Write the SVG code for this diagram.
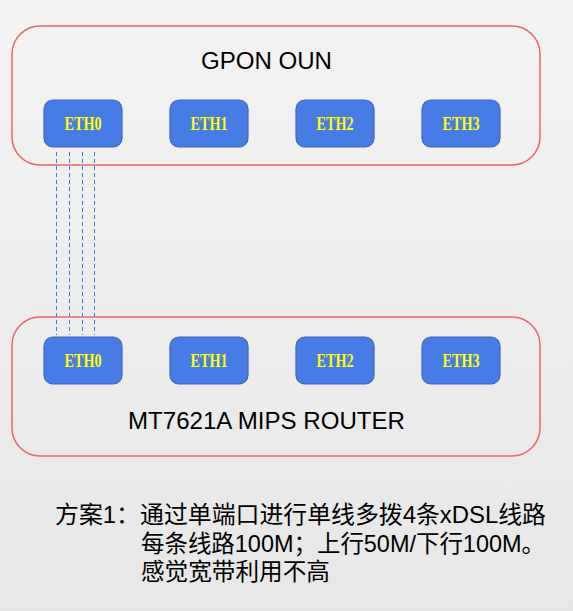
<svg xmlns="http://www.w3.org/2000/svg" width="573" height="611" viewBox="0 0 573 611">
<defs>
<linearGradient id="bg" x1="0" y1="0" x2="0" y2="1">
<stop offset="0" stop-color="#f3f3f3"/>
<stop offset="1" stop-color="#e7e7e7"/>
</linearGradient>
<style>
.box{fill:none;stroke:#ec6464;stroke-width:1.5}
.port{fill:#477be6;stroke:#3f66b8;stroke-width:1.2}
.plabel{font-family:"Liberation Serif",serif;font-size:18.5px;font-weight:bold;fill:#ffff00;text-anchor:middle}
.title{font-family:"Liberation Sans",Arial,sans-serif;font-size:23px;fill:#000;text-anchor:middle}
.note{font-family:"Liberation Sans","Noto Sans CJK SC",sans-serif;font-size:24px;fill:#000}
.link{stroke:#3a7bf0;stroke-width:1;stroke-dasharray:4 3;fill:none}
</style>
</defs>
<rect width="573" height="611" fill="url(#bg)"/>
<g id="gpon">
<rect class="box" x="12" y="26" width="528" height="139" rx="28"/>
<text class="title" x="266.5" y="69" textLength="131" lengthAdjust="spacingAndGlyphs">GPON OUN</text>
</g>
<g id="gpon-eth0"><rect class="port" x="44" y="100" width="78" height="47" rx="9"/><text class="plabel" x="83" y="130" textLength="37" lengthAdjust="spacingAndGlyphs">ETH0</text></g>
<g id="gpon-eth1"><rect class="port" x="170" y="100" width="78" height="47" rx="9"/><text class="plabel" x="209" y="130" textLength="37" lengthAdjust="spacingAndGlyphs">ETH1</text></g>
<g id="gpon-eth2"><rect class="port" x="296" y="100" width="78" height="47" rx="9"/><text class="plabel" x="335" y="130" textLength="37" lengthAdjust="spacingAndGlyphs">ETH2</text></g>
<g id="gpon-eth3"><rect class="port" x="422" y="100" width="78" height="47" rx="9"/><text class="plabel" x="461" y="130" textLength="37" lengthAdjust="spacingAndGlyphs">ETH3</text></g>
<g id="router">
<rect class="box" x="12" y="317" width="528" height="139" rx="28"/>
<text class="title" x="266.5" y="428.5" textLength="277" lengthAdjust="spacingAndGlyphs">MT7621A MIPS ROUTER</text>
</g>
<g id="router-eth0"><rect class="port" x="44" y="337" width="78" height="47" rx="9"/><text class="plabel" x="83" y="367" textLength="37" lengthAdjust="spacingAndGlyphs">ETH0</text></g>
<g id="router-eth1"><rect class="port" x="170" y="337" width="78" height="47" rx="9"/><text class="plabel" x="209" y="367" textLength="37" lengthAdjust="spacingAndGlyphs">ETH1</text></g>
<g id="router-eth2"><rect class="port" x="296" y="337" width="78" height="47" rx="9"/><text class="plabel" x="335" y="367" textLength="37" lengthAdjust="spacingAndGlyphs">ETH2</text></g>
<g id="router-eth3"><rect class="port" x="422" y="337" width="78" height="47" rx="9"/><text class="plabel" x="461" y="367" textLength="37" lengthAdjust="spacingAndGlyphs">ETH3</text></g>
<g id="connectors">
<line class="link" x1="56.5" y1="152" x2="56.5" y2="335"/>
<line class="link" x1="69.5" y1="152" x2="69.5" y2="335"/>
<line class="link" x1="82.5" y1="152" x2="82.5" y2="335"/>
<line class="link" x1="94.5" y1="152" x2="94.5" y2="335"/>
</g>
<g id="note">
<text class="note" x="55" y="523" textLength="85" lengthAdjust="spacingAndGlyphs">方案1：</text>
<text class="note" x="140" y="523" textLength="406" lengthAdjust="spacingAndGlyphs">通过单端口进行单线多拨4条xDSL线路</text>
<text class="note" x="141" y="552" textLength="404" lengthAdjust="spacingAndGlyphs">每条线路100M；上行50M/下行100M。</text>
<text class="note" x="141" y="580" textLength="189" lengthAdjust="spacingAndGlyphs">感觉宽带利用不高</text>
</g>
</svg>
